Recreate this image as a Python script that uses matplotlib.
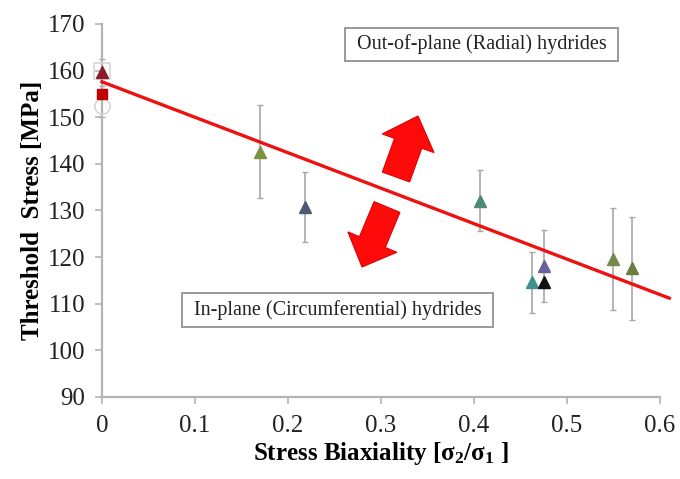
import numpy as np
import matplotlib
matplotlib.use("Agg")
import matplotlib.pyplot as plt
from matplotlib.patches import Polygon, Rectangle

plt.rcParams['font.family'] = ['Liberation Serif', 'DejaVu Serif']
plt.rcParams['mathtext.fontset'] = 'custom'
plt.rcParams['mathtext.rm'] = 'Liberation Serif'
plt.rcParams['mathtext.it'] = 'Liberation Serif:italic'
plt.rcParams['mathtext.bf'] = 'Liberation Serif:bold'

# threshold stress vs. stress biaxiality
biaxiality = [0.0, 0.0, 0.170, 0.218, 0.406, 0.462, 0.475, 0.475, 0.549, 0.570]
stress = [159.6, 155.0, 142.6, 130.8, 132.1, 114.6, 118.1, 114.7, 119.6, 117.6]
stress_err = [3.0, 5.0, 10.0, 7.5, 6.5, 6.5, 7.7, 0.0, 11.0, 11.0]
markers = ['^', 's', '^', '^', '^', '^', '^', '^', '^', '^']
colors = ['#8b1a2e', '#c00000', '#7a9440', '#4f5877', '#4b8a76',
          '#3f8f8c', '#6b5d9e', '#111111', '#76884a', '#6c7d3e']

# open reference markers at uniaxial loading
open_x = [0.0, 0.0]
open_y = [160.0, 152.5]
open_markers = ['s', 'o']

# linear trend
trend_x = [0.0, 0.61]
trend_y = [157.6, 111.2]

x_ticks = [0, 0.1, 0.2, 0.3, 0.4, 0.5, 0.6]
x_ticklabels = ['0', '0.1', '0.2', '0.3', '0.4', '0.5', '0.6']
y_ticks = [90, 100, 110, 120, 130, 140, 150, 160, 170]

W, H = 680, 479
fig = plt.figure(figsize=(W / 100, H / 100), dpi=100)
ax = fig.add_axes([102 / W, 1 - 397 / H, (660 - 102) / W, (397 - 24) / H])

grey = '#a8a8a8'
for x, y, m in zip(open_x, open_y, open_markers):
    ax.plot(x, y, marker=m, ms=11, mfc='none', mec='#d4d4d4', mew=1.1,
            clip_on=False, zorder=3)

for x, y, e, m, c in zip(biaxiality, stress, stress_err, markers, colors):
    if e > 0:
        ax.errorbar(x, y, yerr=e, fmt='none', ecolor=grey, elinewidth=1.2,
                    capsize=2.5, capthick=1, clip_on=False, zorder=2)
    ax.plot(x, y, marker=m, ms=8.5 if m == '^' else 7.5, color=c, mec=c,
            linestyle='none', clip_on=False, zorder=5)

ax.plot(trend_x, trend_y, color='#ee1111', lw=2.4, clip_on=False, zorder=4)

ax.set_xlim(0, 0.6)
ax.set_ylim(90, 170)
ax.set_xticks(x_ticks)
ax.set_xticklabels(x_ticklabels)
ax.set_yticks(y_ticks)
for s in ('top', 'right'):
    ax.spines[s].set_visible(False)
for s in ('left', 'bottom'):
    ax.spines[s].set_color('#b4b4b4')
    ax.spines[s].set_linewidth(1.6)
ax.tick_params(axis='both', colors='#b4b4b4', labelcolor='#222222',
               labelsize=18, length=5, width=1.2)
ax.tick_params(axis='y', pad=7)
ax.tick_params(axis='x', pad=8)

ax.set_xlabel(r'Stress Biaxiality [$\mathbf{\sigma_2/\sigma_1}$ ]',
              fontsize=18, fontweight='bold', labelpad=2)
ax.set_ylabel('Threshold  Stress [MPa]', fontsize=18, fontweight='bold',
              labelpad=3)


def px(x, y):
    return (x / W, 1 - y / H)


def block_arrow(tail, tip, shaft_w, head_w, head_len):
    tail = np.array(tail, float)
    tip = np.array(tip, float)
    d = tip - tail
    d /= np.hypot(*d)
    n = np.array([-d[1], d[0]])
    base = tip - d * head_len
    pts = [tail + n * shaft_w / 2, base + n * shaft_w / 2, base + n * head_w / 2,
           tip, base - n * head_w / 2, base - n * shaft_w / 2, tail - n * shaft_w / 2]
    fig.add_artist(Polygon([px(*p) for p in pts], closed=True,
                           facecolor='#ff0a0a', edgecolor='#e00000', lw=0.8))


block_arrow((396, 177), (418, 116), 29, 55, 29)
block_arrow((387, 207), (362, 267), 28, 53, 27)


def boxed_label(x0, y0, x1, y1, text):
    fig.add_artist(Rectangle(px(x0, y1), (x1 - x0) / W, (y1 - y0) / H,
                             facecolor='white', edgecolor='#9a9a9a', lw=1.4))
    fig.text(*px((x0 + x1) / 2, (y0 + y1) / 2), text, ha='center', va='center',
             fontsize=14.5, color='#222222')


boxed_label(345, 28, 618, 61, 'Out-of-plane (Radial) hydrides')
boxed_label(182, 293, 493, 327, 'In-plane (Circumferential) hydrides')

fig.savefig('out.png', dpi=100)
